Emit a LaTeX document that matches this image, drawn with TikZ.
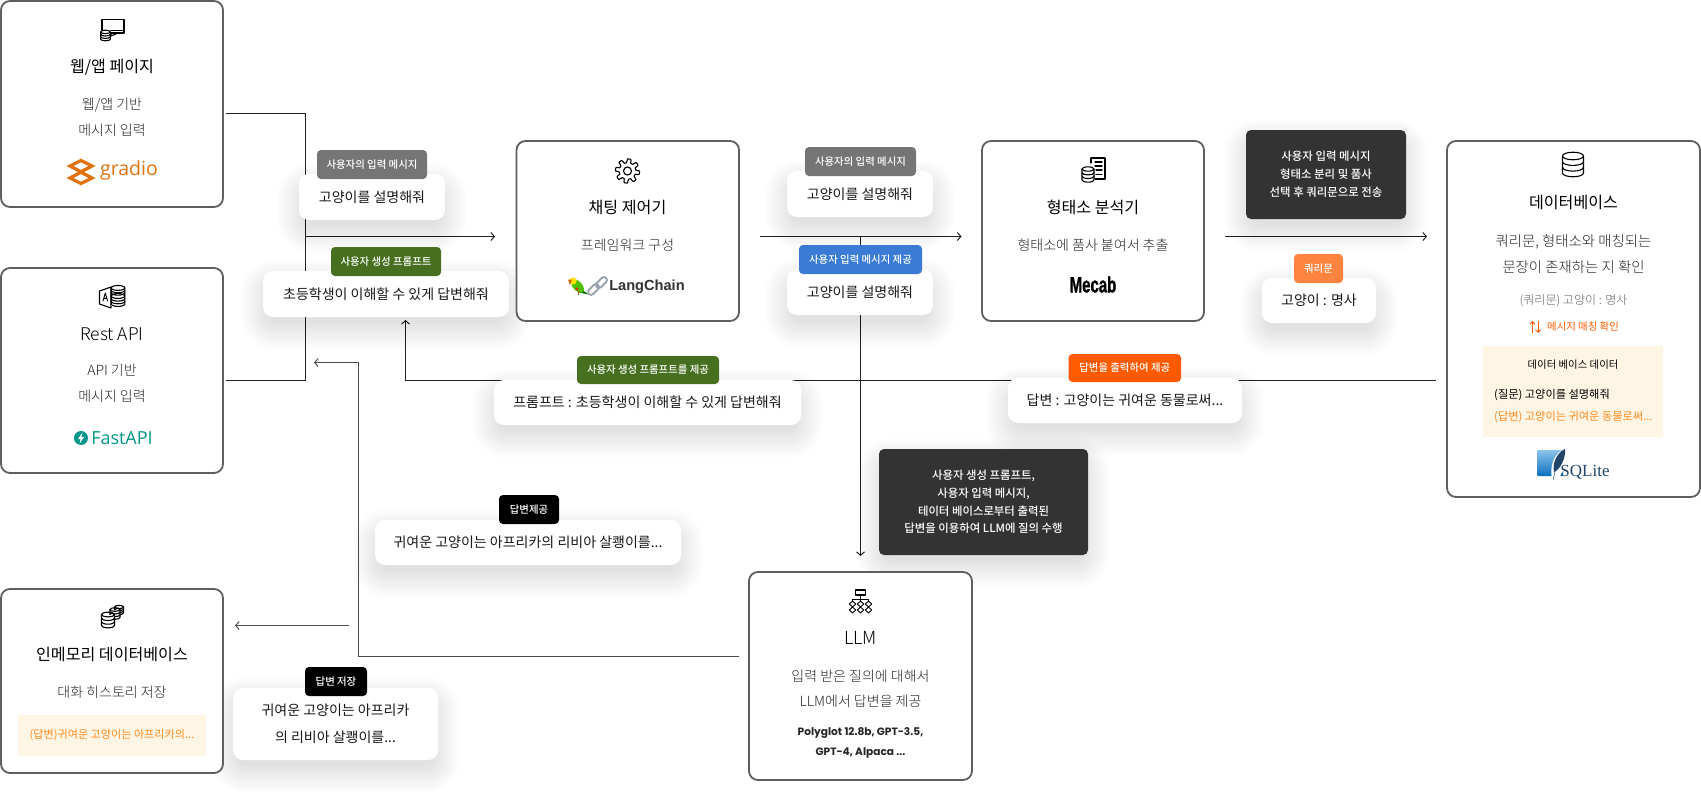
\documentclass[tikz,border=0pt]{standalone}
\usepackage{fontspec}
\usetikzlibrary{arrows.meta,calc,backgrounds}
\setmainfont{Noto Sans CJK KR}
\newfontfamily\krl{Noto Sans CJK KR Light}
\newfontfamily\krm{Noto Sans CJK KR Medium}
\newfontfamily\popf{Poppins}
\newfontfamily\libs{Liberation Sans}
\newfontfamily\heavyf[BoldFeatures={FakeBold=1.5}]{Liberation Sans}
\newfontfamily\libr{Liberation Serif}
\newfontfamily\opens{Open Sans}
\newcommand\fz[2]{\fontsize{#1}{#2}\selectfont}
\definecolor{line}{HTML}{222222}
\definecolor{boxc}{HTML}{5f5f5f}
\definecolor{cream}{HTML}{FFF5E4}
\definecolor{amber}{HTML}{FF8A1F}
\definecolor{leaf}{HTML}{46701F}
\definecolor{skyb}{HTML}{3A7BD5}
\definecolor{flame}{HTML}{FF5A00}
\definecolor{peach}{HTML}{FF843F}
\definecolor{gradc}{HTML}{E0730F}
\definecolor{fastc}{HTML}{049688}
\definecolor{slate}{HTML}{21466A}
\definecolor{linkc}{HTML}{9AA3AC}
\definecolor{sqtop}{HTML}{8CC4EA}
\definecolor{sqbot}{HTML}{0B6FC0}
\pgfdeclarelayer{conn}\pgfdeclarelayer{shad}
\pgfsetlayers{conn,shad,main}
\tikzset{
  panel/.style={draw=boxc,line width=1.8pt,rounded corners=9pt,fill=white,inner sep=0pt},
  cardbox/.style={fill=white,rounded corners=10pt,inner sep=0pt,align=center,text=black!90,font=\fz{14}{27}},
  badgebox/.style={rounded corners=4pt,inner sep=0pt,text=white,align=center,font=\krm\fz{10.4}{12}},
  darkbox/.style={fill=black!80,rounded corners=5pt,inner sep=0pt,text=white,align=center},
  headt/.style={inner sep=0pt,text=black,font=\fz{16.1}{20}},
  subt/.style={inner sep=0pt,text=black!85,align=center,font=\krl\fz{14}{25.5}},
  conline/.style={draw=line,line width=1pt},
  arrowline/.style={conline,-{Straight Barb[length=3.5pt,width=8pt,line width=1pt]}},
  ic/.style={draw=black,line width=1.1pt,line join=round,line cap=round},
}
\newcommand\softshadow[4]{\begin{pgfonlayer}{shad}\foreach \rr in {22,20,...,-6}{\pgfmathsetmacro\rco{max(8,12+\rr)}\fill[black,opacity=.0072,rounded corners=\rco pt] (#1-\rr,#2-\rr+11) rectangle (#3+\rr,#4+\rr+11);}\end{pgfonlayer}}
\newcommand\placebox[7]{\pgfmathsetmacro\bcx{(#3+#5)/2}\pgfmathsetmacro\bcy{(#4+#6)/2}\pgfmathsetmacro\bwd{#5-#3}\pgfmathsetmacro\bht{#6-#4}\node[#1,minimum width=\bwd pt,minimum height=\bht pt] (#2) at (\bcx,\bcy) {#7};}
\newcommand\card[6]{\softshadow{#2}{#3}{#4}{#5}\placebox{cardbox}{#1}{#2}{#3}{#4}{#5}{#6}}
\newcommand\dbicon[4]{\fill[white] (#1-#3,#2-#4) rectangle (#1+#3,#2+#4+#3*.36);
  \draw[ic] (#1,#2-#4) ellipse ({#3} and {#3*.36});
  \draw[ic] (#1-#3,#2-#4) -- (#1-#3,#2+#4) arc[start angle=180,end angle=0,x radius=#3,y radius=#3*.36] -- (#1+#3,#2-#4);
  \draw[ic] (#1-#3,#2-#4/3) arc[start angle=180,end angle=0,x radius=#3,y radius=#3*.36];
  \draw[ic] (#1-#3,#2+#4/3) arc[start angle=180,end angle=0,x radius=#3,y radius=#3*.36];}
\begin{document}
\begin{tikzpicture}[x=1pt,y=-1pt]
\useasboundingbox (0,0) rectangle (1701,811);
% ---------- panels
\placebox{panel}{web}{1}{1}{223}{207}{}
\placebox{panel}{rest}{1}{268}{223}{473}{}
\placebox{panel}{chat}{516.5}{141}{739}{321}{}
\placebox{panel}{morph}{982}{141}{1204}{321}{}
\placebox{panel}{dbase}{1447}{141}{1700}{497}{}
\placebox{panel}{llm}{749}{572}{972}{780}{}
\placebox{panel}{mem}{1}{589}{223}{773}{}
% ---------- panel: web
\draw[ic] (102,30) -- (102,19.5) -- (124,19.5) -- (124,33) -- (111,33);
\draw[ic] (111,30.5) -- (124,30.5);
\draw[ic] (111,33) -- (111,36) -- (116,34);
\dbicon{105.5}{35.5}{4.8}{3.6}
\node[headt] (webt) at (112,67) {웹/앱 페이지};
\node[subt] (webs) at (112,117.5) {웹/앱 기반\\메시지 입력};
\draw[gradc,line width=3.3pt,line join=miter] (81,160.5) -- (92,166) -- (81,171.8) -- (70,166) -- cycle;
\draw[gradc,line width=3.3pt,line join=miter] (81,172.2) -- (92,178) -- (81,183.5) -- (70,178) -- cycle;
\node[inner sep=0pt,text=gradc,font=\opens\fz{19.5}{20}] (gradio) at (129,170) {gradio};
% ---------- panel: rest
\draw[ic] (111,287) -- (99.5,291) -- (99.5,304) -- (111,308) -- cycle;
\draw[ic,line width=.9pt] (103,301) -- (105.3,293) -- (107.6,301) (103.8,298.4) -- (106.8,298.4);
\dbicon{118}{291.5}{6.8}{3.6}
\dbicon{118}{300}{6.8}{4}
\node[headt,font=\krl\fz{17.5}{20}] (restt) at (112,334) {Rest API};
\node[subt] (rests) at (112,383.5) {API 기반\\메시지 입력};
\fill[fastc] (81,438) circle (7);
\fill[white] (82.4,432.5) -- (78,439) -- (80.6,439) -- (79.6,443.5) -- (84,437) -- (81.4,437) -- cycle;
\node[inner sep=0pt,text=fastc,font=\opens\fz{18}{20}] (fastapi) at (122,438) {FastAPI};
% ---------- panel: chat
\draw[ic] plot[smooth,domain=0:360,samples=97] ({627.5+(10.2+1.9*max(-1,min(1,3*sin(8*\x+22.5))))*cos(\x)},{171+(10.2+1.9*max(-1,min(1,3*sin(8*\x+22.5))))*sin(\x)});
\draw[ic] (627.5,171) circle (4);
\node[headt] (chatt) at (627.5,207) {채팅 제어기};
\node[subt] (chats) at (627.5,245) {프레임워크 구성};
\fill[green!40!black] (581,289) -- (588.5,294.5) -- (579,292.5) -- cycle;
\fill[green!60!yellow!75!black,rotate around={-48:(577.5,286)}] (577.5,286) ellipse (8.2 and 4.6);
\fill[yellow!85!orange] (573,281) circle (3.6);
\fill[orange!80!black] (568,279.5) -- (570,285) -- (572,279.5) -- cycle;
\fill[red!70!orange] (577,289) circle (1.6);
\draw[orange!70!black,line width=.8pt] (578,291) -- (578,294.5);
\draw[linkc,line width=1.8pt,rounded corners=3pt,rotate around={45:(593.5,289.5)}] (587,286.5) rectangle (600,292.5);
\draw[linkc,line width=1.8pt,rounded corners=3pt,rotate around={45:(601.5,282.5)}] (595,279.5) rectangle (608,285.5);
\node[inner sep=0pt,text=black!80,font=\libs\bfseries\fz{14.6}{16}] (lang) at (647,287) {LangChain};
% ---------- panel: morph
\draw[ic] (1091,163) -- (1091,158) -- (1105,158) -- (1105,179) -- (1095,179);
\draw[ic] (1095,162) -- (1102,162) (1095,166) -- (1102,166) (1096,170) -- (1102,170) (1096,174.5) -- (1102,174.5);
\dbicon{1088}{174.5}{6}{5.5}
\node[headt] (morpht) at (1093,207) {형태소 분석기};
\node[subt] (morphs) at (1093,245) {형태소에 품사 붙여서 추출};
\node[inner sep=0pt,text=black,font=\heavyf\bfseries\fz{22}{20}] (mecab) at (1093,284.5) {\scalebox{.68}[1]{Mecab}};
% ---------- panel: db
\dbicon{1573}{164.5}{10.5}{8.5}
\node[headt] (dbt) at (1573.5,202) {데이터베이스};
\node[subt,font=\krl\fz{14.4}{26}] (dbs) at (1573.5,254) {쿼리문, 형태소와 매칭되는\\문장이 존재하는 지 확인};
\node[inner sep=0pt,text=black!62,font=\krl\fz{12}{14}] (dbq) at (1573.5,301) {(쿼리문) 고양이 : 명사};
\draw[draw=flame,line width=1pt,-{Straight Barb[length=2.5pt,width=5pt]}] (1532.5,333) -- (1532.5,321);
\draw[draw=flame,line width=1pt,-{Straight Barb[length=2.5pt,width=5pt]}] (1538,321) -- (1538,333);
\node[inner sep=0pt,text=flame,font=\fz{10.4}{12}] (dbm) at (1583,327) {메시지 매칭 확인};
\fill[cream] (1483,346) rectangle (1663,437);
\node[inner sep=0pt,text=black,font=\fz{10.4}{12}] (dbc) at (1573,365) {데이터 베이스 데이터};
\node[inner sep=0pt,anchor=west,text=black,font=\fz{11.2}{12}] (dbc1) at (1494,395) {(질문) 고양이를 설명해줘};
\node[inner sep=0pt,anchor=west,text=amber,font=\fz{11.2}{12}] (dbc2) at (1494,417) {(답변) 고양이는 귀여운 동물로써...};
\shade[top color=sqtop,bottom color=sqbot,rounded corners=1pt] (1537,450) rectangle (1563,476);
\fill[white] (1566,449) .. controls (1556,451) and (1549,463) .. (1552,479) -- (1558,479) .. controls (1565,470) and (1568,458) .. (1566,449);
\fill[slate] (1565,449) .. controls (1558,452) and (1552,462) .. (1554,472) .. controls (1560,470) and (1566,458) .. (1565,449);
\draw[slate,line width=.5pt] (1557,463) -- (1553,480);
\node[inner sep=0pt,text=slate,font=\libr\fz{17}{18}] (sqlite) at (1585,472) {SQLite};
% ---------- panel: llm
\draw[ic] (855.5,590) rectangle (865.5,595);
\draw[ic,line width=.9pt] (860.5,595) -- (860.5,599) (852.5,601) -- (852.5,599) -- (868.5,599) -- (868.5,601) (860.5,599) -- (860.5,601);
\foreach \dx in {852.5,860.5,868.5}{\foreach \dy in {604,610}{
  \draw[ic,line width=.9pt] (\dx,\dy-3) -- (\dx+3.2,\dy) -- (\dx,\dy+3) -- (\dx-3.2,\dy) -- cycle;}}
\node[headt,font=\krl\fz{18}{20}] (llmt) at (860.5,638) {LLM};
\node[subt] (llms) at (860.5,688.5) {입력 받은 질의에 대해서\\LLM에서 답변을 제공};
\node[inner sep=0pt,align=center,text=black!85,font=\popf\bfseries\fz{10.6}{20}] (llmm) at (860.5,743) {Polyglot 12.8b, GPT-3.5,\\GPT-4, Alpaca ...};
% ---------- panel: mem
\dbicon{119}{610}{4.5}{3}
\dbicon{115}{613.5}{5}{4}
\dbicon{108}{620}{6.5}{5.5}
\node[headt] (memt) at (112,654) {인메모리 데이터베이스};
\node[subt] (mems) at (112,692) {대화 히스토리 저장};
\fill[cream] (18,715) rectangle (206,756);
\node[inner sep=0pt,text=amber,font=\fz{11.1}{12}] (memc) at (112,735) {(답변)귀여운 고양이는 아프리카의...};
% ---------- cards and badges
\card{c1}{299}{174}{445}{220}{고양이를 설명해줘}
\placebox{badgebox,fill=black!54}{b1}{317}{150}{427}{179}{사용자의 입력 메시지}
\card{c2}{263}{271}{509}{317}{초등학생이 이해할 수 있게 답변해줘}
\placebox{badgebox,fill=leaf}{b2}{331}{247}{441}{276}{사용자 생성 프롬프트}
\card{c3}{787}{171}{933}{217}{고양이를 설명해줘}
\placebox{badgebox,fill=black!54}{b3}{805}{147}{916}{176}{사용자의 입력 메시지}
\card{c4}{787}{269}{933}{315}{고양이를 설명해줘}
\placebox{badgebox,fill=skyb}{b4}{799}{245}{922}{274}{사용자 입력 메시지 제공}
\card{c5}{494}{380}{801}{425}{프롬프트 : 초등학생이 이해할 수 있게 답변해줘}
\placebox{badgebox,fill=leaf}{b5}{577}{356}{719}{384}{사용자 생성 프롬프트를 제공}
\card{c6}{1008}{378}{1242}{423}{답변 : 고양이는 귀여운 동물로써...}
\placebox{badgebox,fill=flame}{b6}{1068.5}{354}{1181}{382}{답변을 출력하여 제공}
\card{c7}{1262}{278}{1376}{323}{고양이 : 명사}
\placebox{badgebox,fill=peach}{b7}{1294}{254}{1343}{283}{쿼리문}
\card{c8}{375}{520}{681}{565}{귀여운 고양이는 아프리카의 리비아 살쾡이를...}
\placebox{badgebox,fill=black}{b8}{499}{495}{559}{524}{답변제공}
\card{c9}{233}{688}{438}{760}{귀여운 고양이는 아프리카\\의 리비아 살쾡이를...}
\placebox{badgebox,fill=black}{b9}{305}{667}{367}{696}{답변 저장}
\softshadow{1246}{130}{1406}{219}
\placebox{darkbox,font=\krm\fz{11.4}{18}}{d1}{1246}{130}{1406}{219}{사용자 입력 메시지\\형태소 분리 및 품사\\선택 후 쿼리문으로 전송}
\softshadow{879}{449}{1088}{555}
\placebox{darkbox,font=\krm\fz{11.4}{17.8}}{d2}{879}{449}{1088}{555}{사용자 생성 프롬프트,\\사용자 입력 메시지,\\테이터 베이스로부터 출력된\\답변을 이용하여 LLM에 질의 수행}
% ---------- connectors
\coordinate (webout) at (226,113.5);
\coordinate (restout) at (226,380.5);
\coordinate (bus) at (305.5,236.5);
\coordinate (chatin) at (495,236.5);
\coordinate (chatout) at (759.5,236.5);
\coordinate (morphin) at (961.5,236.5);
\coordinate (split) at (860.5,236.5);
\coordinate (llmin) at (860.5,556);
\coordinate (morphout) at (1225,236.5);
\coordinate (dbin) at (1427,236.5);
\coordinate (dbout) at (1436,380.5);
\coordinate (promptup) at (405.5,320);
\coordinate (ansturn) at (358.5,656.5);
\coordinate (llmout) at (739,656.5);
\coordinate (anstip) at (314,362.5);
\coordinate (memfrom) at (349,625.5);
\coordinate (memin) at (235,625.5);
\begin{pgfonlayer}{conn}
\draw[conline] (webout) -| (bus) |- (restout);
\draw[arrowline] (bus) -- (chatin);
\draw[arrowline] (chatout) -- (morphin);
\draw[arrowline] (split) -- (llmin);
\draw[arrowline] (morphout) -- (dbin);
\draw[arrowline] (dbout) -| (promptup);
\draw[arrowline,draw=black!70] (llmout) -- (ansturn) |- (anstip);
\draw[arrowline,draw=black!70] (memfrom) -- (memin);
\end{pgfonlayer}
\end{tikzpicture}
\end{document}
